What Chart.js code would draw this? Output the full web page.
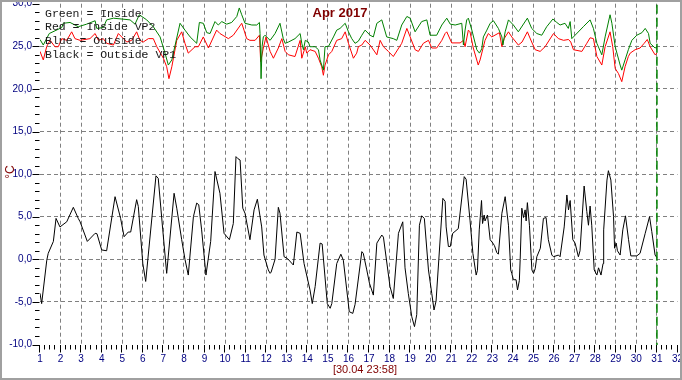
<!DOCTYPE html>
<html><head><meta charset="utf-8">
<script src="https://cdn.jsdelivr.net/npm/chart.js@4"></script>
<style>html,body{margin:0;padding:0;background:#fff;overflow:hidden}</style>
</head><body>
<canvas id="c" width="682" height="380"></canvas>
<script>
// ---- data (days of April 2017, °C) ----
const titleText = 'Apr 2017';
const bottomText = '[30.04 23:58]';
const unitText = '°C';
const legendLines = ['Green = Inside', 'Red = Inside VP2', 'Blue = Outside', 'Black = Outside VP1'];
const xMin = 1, xMax = 32, yMin = -10, yMax = 30;
const markerDay = 31;

const greenDays = [1.00,1.16,1.45,2.06,2.13,2.46,2.86,3.27,3.68,3.76,4.08,4.24,4.57,5.38,5.62,5.83,6.19,6.51,6.84,7.08,7.24,7.41,7.81,8.05,8.30,8.62,8.75,8.94,9.11,9.27,9.51,9.67,9.84,10.08,10.32,10.57,10.69,10.81,10.97,11.30,11.54,11.67,11.70,11.75,11.80,11.86,11.94,12.19,12.43,12.67,12.83,12.92,13.08,13.40,13.65,13.73,13.81,13.90,14.05,14.13,14.38,14.54,14.62,14.78,14.86,15.03,15.27,15.43,15.59,15.84,16.00,16.16,16.32,16.48,16.65,16.81,17.05,17.21,17.38,17.62,17.86,18.18,18.35,18.59,18.84,19.00,19.24,19.56,19.81,19.97,20.29,20.54,20.78,20.95,21.19,21.51,21.59,21.67,21.75,21.83,22.00,22.24,22.37,22.48,22.56,22.73,22.89,23.05,23.29,23.46,23.51,23.62,23.78,24.02,24.26,24.70,24.91,25.16,25.40,25.64,25.94,26.13,26.29,26.53,26.69,26.78,26.86,27.02,27.42,27.75,27.91,28.08,28.32,28.48,28.72,28.81,28.97,29.21,29.29,29.45,29.61,29.78,30.02,30.27,30.43,30.59,30.67,30.91,31.00];
const greenVals = [25.8,25.15,26.5,27.2,27.7,27.8,27.3,27.6,28.0,27.1,27.2,28.1,28.3,28.1,27.6,28.7,28.1,27.3,26.1,24.2,22.8,23.4,27.7,26.9,26.1,25.35,27.8,27.7,26.6,26.5,27.9,27.5,27.9,27.6,27.8,28.5,29.5,28.7,27.7,27.5,27.5,27.8,26.5,21.2,25.0,26.1,26.3,25.7,26.5,27.7,25.9,25.35,25.5,25.9,26.5,25.35,24.6,25.7,25.5,24.95,24.95,24.6,23.4,22.2,24.95,25.0,26.1,26.9,27.1,27.7,26.7,25.9,25.35,25.6,26.3,26.9,26.3,26.1,27.7,28.1,26.1,25.9,25.7,27.5,28.5,28.3,26.7,27.9,28.1,26.3,26.3,27.5,28.3,27.6,27.5,27.7,25.15,26.9,28.1,28.3,26.9,24.6,24.2,24.7,26.1,26.9,27.7,28.0,27.1,26.1,25.15,26.7,28.1,27.5,26.7,28.3,27.1,26.5,26.3,27.3,28.2,27.8,27.5,27.7,27.1,27.9,25.9,26.3,27.3,28.1,27.1,25.35,24.0,26.1,28.7,27.7,24.95,22.8,22.2,23.4,24.6,25.7,26.3,26.6,27.1,26.5,25.35,24.8,24.95];

const redDays = [1.00,1.16,1.33,1.49,1.73,1.89,2.06,2.30,2.54,2.70,2.95,3.43,3.68,3.84,4.08,4.24,4.57,4.81,5.22,5.46,5.70,5.86,6.02,6.27,6.51,6.68,7.00,7.16,7.27,7.41,7.65,7.89,8.05,8.21,8.54,8.70,8.94,9.19,9.59,9.75,10.16,10.40,10.81,10.92,11.05,11.21,11.46,11.67,11.73,11.86,11.99,12.19,12.35,12.59,12.76,12.92,13.08,13.40,13.65,13.73,13.90,13.97,14.13,14.38,14.54,14.70,14.78,14.86,15.03,15.19,15.43,15.67,15.84,16.00,16.24,16.40,16.48,16.65,16.81,17.05,17.38,17.54,17.70,17.94,18.18,18.59,18.84,19.00,19.24,19.40,19.64,19.89,20.05,20.29,20.54,20.70,20.78,21.02,21.43,21.59,21.67,21.83,21.91,22.07,22.31,22.40,22.64,22.80,22.97,23.34,23.46,23.57,23.78,23.94,24.26,24.44,24.70,24.91,25.08,25.32,25.56,25.97,26.21,26.46,26.70,26.81,26.94,27.35,27.59,27.75,27.91,28.08,28.32,28.48,28.72,28.85,28.97,29.13,29.29,29.45,29.61,29.70,29.94,30.18,30.38,30.53,30.67,30.91,31.00];
const redVals = [24.4,23.4,25.0,25.7,24.95,24.95,25.9,25.7,26.7,25.9,25.7,25.9,26.5,25.7,25.9,25.35,25.15,26.5,25.5,25.7,26.7,25.7,25.5,25.9,25.9,24.95,23.6,22.6,21.2,22.6,25.7,26.7,25.35,24.2,24.95,24.95,26.1,24.8,26.9,26.5,25.9,26.3,27.7,26.9,25.9,25.7,25.7,26.3,23.2,24.8,26.1,24.4,23.6,24.8,25.9,24.4,24.0,23.8,25.7,23.6,24.95,24.2,24.6,24.4,23.6,22.6,21.6,22.8,24.0,24.4,25.7,25.9,26.7,25.35,23.6,24.2,24.95,25.15,25.7,25.15,24.0,25.7,24.95,24.4,23.8,25.35,27.1,26.1,24.6,24.4,25.35,25.7,24.8,24.8,25.7,26.5,26.7,25.4,25.4,25.7,24.95,26.9,26.7,24.8,22.8,23.4,25.7,26.5,26.1,26.6,24.95,25.9,26.7,26.1,25.15,25.5,26.7,25.5,24.6,24.4,24.95,26.5,25.9,25.7,25.8,25.5,24.6,24.4,25.35,26.0,25.9,23.8,22.8,24.95,26.7,24.95,22.4,21.8,20.85,22.6,23.8,24.2,24.6,24.8,25.35,25.8,24.95,24.0,24.2];

const blackDays = [1.00,1.08,1.33,1.40,1.65,1.78,1.97,2.30,2.62,2.86,2.95,3.30,3.68,3.77,4.00,4.24,4.65,4.92,5.09,5.29,5.41,5.70,5.78,6.00,6.14,6.64,6.75,6.97,7.16,7.52,7.65,7.89,8.05,8.21,8.46,8.62,8.72,8.86,9.07,9.30,9.51,9.75,9.95,10.21,10.40,10.53,10.63,10.73,10.86,10.97,11.21,11.41,11.57,11.78,11.89,12.10,12.19,12.24,12.43,12.59,12.67,12.87,13.03,13.32,13.49,13.65,13.84,14.13,14.24,14.38,14.62,14.72,14.97,15.11,15.19,15.43,15.63,15.75,16.04,16.21,16.32,16.65,16.72,16.89,17.02,17.21,17.38,17.62,17.70,18.02,18.18,18.43,18.64,18.75,18.91,19.08,19.21,19.32,19.45,19.56,19.69,19.89,20.05,20.16,20.26,20.59,20.70,20.75,20.86,20.95,21.07,21.34,21.63,21.72,21.91,22.05,22.21,22.27,22.36,22.47,22.52,22.60,22.64,22.76,22.89,23.02,23.10,23.21,23.29,23.46,23.62,23.78,23.89,23.94,24.02,24.15,24.22,24.31,24.35,24.43,24.51,24.59,24.64,24.70,24.80,24.92,25.00,25.08,25.16,25.33,25.48,25.61,25.72,25.89,25.97,26.21,26.29,26.49,26.62,26.70,26.78,26.91,27.02,27.18,27.26,27.46,27.59,27.67,27.75,27.83,27.95,28.08,28.16,28.28,28.38,28.41,28.57,28.64,28.76,28.89,28.94,29.02,29.08,29.21,29.34,29.47,29.62,29.73,30.02,30.18,30.43,30.64,30.75,30.91,31.00];
const blackVals = [-4.0,-5.2,-0.1,0.7,2.1,4.8,3.8,4.4,6.1,4.8,4.4,2.1,3.05,3.0,1.1,1.0,7.35,4.8,2.65,3.2,3.2,7.0,6.2,-0.5,-2.6,9.8,9.5,3.45,-1.65,7.75,6.0,2.3,0,-1.85,5.0,6.6,6.4,3.45,-1.85,2.1,10.3,7.75,3.05,2.3,4.2,12.05,11.8,11.65,6.0,5.4,2.3,5.8,7.05,3.8,0.5,-1.25,-1.65,-1.5,0,6.1,5.4,0.3,0.1,-0.67,3.2,3.05,-0.5,-3.6,-5.2,-3.2,1.9,1.8,-5.2,-5.75,-5.2,-0.5,0.6,-0.1,-6.15,-6.35,-5.3,0.9,0.7,-1.25,-2.8,-4.2,1.9,2.85,2.6,-3.2,-4.6,3.05,4.4,-1.0,-4.0,-6.75,-7.9,-6.5,4.0,5.1,4.8,-1.25,-4.0,-5.95,-4.9,7.15,6.8,3.8,1.5,1.5,3.05,3.6,9.7,9.4,4.6,0.7,-1.85,-1.3,3.45,6.9,4.2,5.2,4.5,5.2,2.3,1.9,1.6,0.8,0.6,5.4,7.35,4.0,-1.25,-1.65,-2.4,-2.4,-3.6,-2.5,0,6.0,4.9,5.8,4.5,6.65,4.0,-1.25,-1.65,-1.1,0.3,1.3,4.8,4.9,2.3,0.5,0.3,0.5,0.3,3.8,7.55,5.8,6.9,2.3,1.9,0.3,1.0,8.6,5.6,4.0,6.25,4.0,-1.25,-1.85,-1.0,-1.85,-0.5,3.45,9.3,10.4,9.3,5.0,1.3,1.9,1.0,0.5,3.45,5.1,2.3,0.4,0.4,0.7,3.05,5.0,3.25,0.5,0.2];

const pts = (xs, ys) => xs.map((x, i) => ({x, y: ys[i]}));
const NAVY = '#000080', DARKRED = '#800000';
const tickFont = {family: 'Liberation Sans', size: 10};

const decor = {
  id: 'decor',
  afterDraw(chart) {
    const c = chart.ctx, xs = chart.scales.x, ys = chart.scales.y, a = chart.chartArea;
    c.save();
    // tick marks
    c.strokeStyle = '#000'; c.lineWidth = 1; c.setLineDash([]);
    c.beginPath();
    for (let v = yMin; v <= yMax + 1e-9; v += 1) {
      const y = Math.round(ys.getPixelForValue(v)) + 0.5;
      const major = v % 5 === 0;
      c.moveTo(major ? 32.5 : 35, y); c.lineTo(39.5, y);
    }
    for (let k = 0; k <= (xMax - xMin) * 4; k++) {
      const v = xMin + k / 4;
      const x = Math.round(xs.getPixelForValue(v)) - 0.5;
      const major = k % 4 === 0;
      c.moveTo(x, 345); c.lineTo(x, major ? 352.5 : 349.5);
    }
    c.stroke();
    // marker line
    const mx = xs.getPixelForValue(markerDay);
    c.strokeStyle = '#008000'; c.lineWidth = 1.5; c.setLineDash([9, 4]);
    c.beginPath(); c.moveTo(mx, a.top + 1); c.lineTo(mx, a.bottom + 0.5); c.stroke();
    c.setLineDash([]);
    // legend text
    c.fillStyle = '#1a1a1a'; c.font = '11.5px "Liberation Mono"';
    c.textAlign = 'left'; c.textBaseline = 'middle';
    legendLines.forEach((t, i) => c.fillText(t, 45, 13.5 + i * 13.7));
    // title
    c.fillStyle = DARKRED; c.font = 'bold 13px "Liberation Sans"'; c.textAlign = 'center';
    c.fillText(titleText, 340, 13);
    // bottom label
    c.font = '11px "Liberation Sans"';
    c.fillText(bottomText, 365, 369.5);
    // unit
    c.save(); c.translate(11, 172); c.rotate(-Math.PI / 2);
    c.font = '12px "Liberation Sans"'; c.fillText(unitText, 0, 0); c.restore();
    // frame
    c.strokeStyle = '#a0a0a0'; c.lineWidth = 2;
    c.strokeRect(1, 1, 680, 378);
    c.restore();
  }
};

new Chart(document.getElementById('c'), {
  type: 'line',
  data: {
    datasets: [
      {label: 'Inside', data: pts(greenDays, greenVals), borderColor: '#008000', borderWidth: 1, pointRadius: 0, tension: 0},
      {label: 'Inside VP2', data: pts(redDays, redVals), borderColor: '#ff0000', borderWidth: 1, pointRadius: 0, tension: 0},
      {label: 'Outside VP1', data: pts(blackDays, blackVals), borderColor: '#000000', borderWidth: 1, pointRadius: 0, tension: 0}
    ]
  },
  options: {
    responsive: false, animation: false, devicePixelRatio: 1,
    layout: {padding: {left: 0, right: 4.5, top: 3.7, bottom: 0}},
    plugins: {legend: {display: false}, tooltip: {enabled: false}, title: {display: false}},
    scales: {
      x: {
        type: 'linear', min: xMin, max: xMax,
        afterFit(s) { s.height = 35.5; s.paddingLeft = 0; s.paddingRight = 0; },
        ticks: {stepSize: 0.25, autoSkip: false, maxRotation: 0, minRotation: 0, padding: 9, color: NAVY, font: tickFont,
                callback: v => Number.isInteger(v) ? String(v) : ''},
        grid: {drawTicks: false, lineWidth: 1,
               color: c => (Number.isInteger(c.tick.value) && c.tick.value > xMin && c.tick.value < xMax) ? '#808080' : 'rgba(0,0,0,0)'},
        border: {display: false, dash: [4, 3]}
      },
      y: {
        type: 'linear', min: yMin, max: yMax,
        afterFit(s) { s.width = 40; s.paddingTop = 0; s.paddingBottom = 0; },
        ticks: {stepSize: 1, autoSkip: false, padding: 8, color: NAVY, font: tickFont,
                callback: v => (v % 5 === 0) ? v.toFixed(1).replace('.', ',') : ''},
        grid: {drawTicks: false, lineWidth: 1,
               color: c => (c.tick.value % 5 === 0 && c.tick.value > yMin && c.tick.value < yMax) ? '#808080' : 'rgba(0,0,0,0)'},
        border: {display: false, dash: [4, 3]}
      }
    }
  },
  plugins: [decor]
});
</script>
</body></html>
